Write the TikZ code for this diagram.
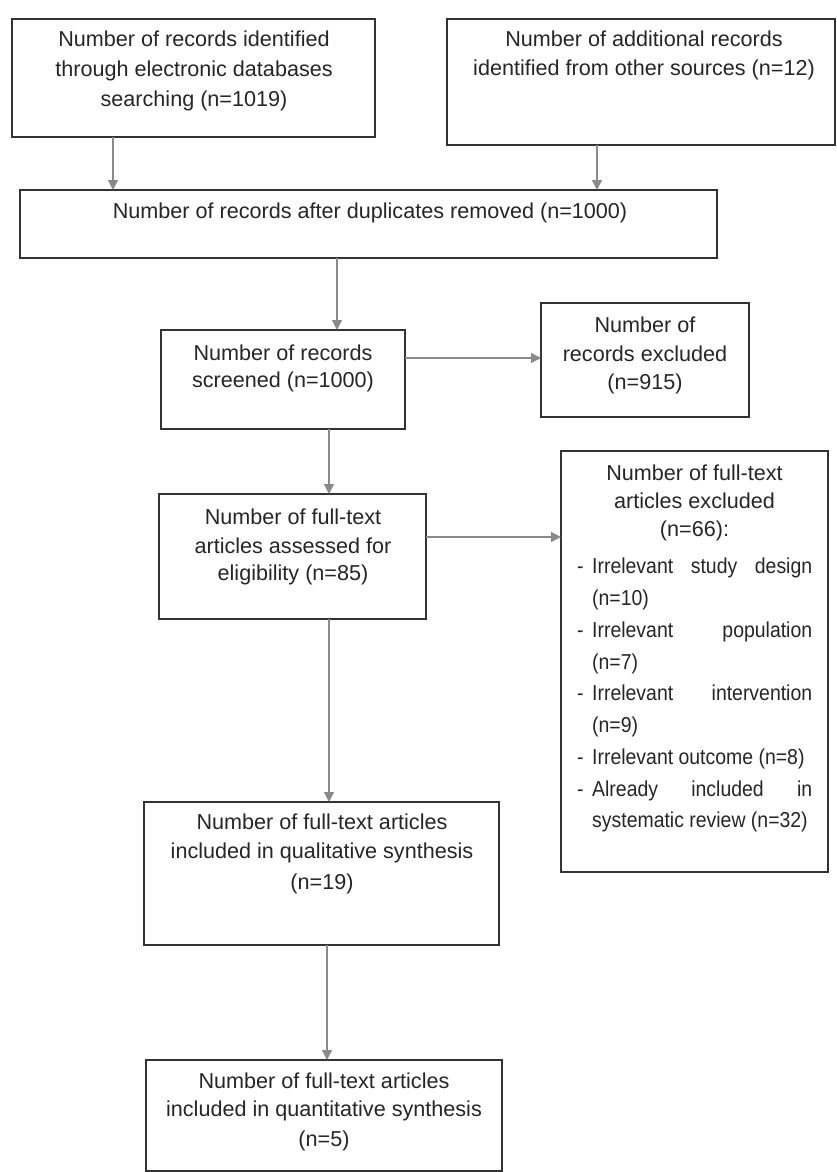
\documentclass[tikz,border=0pt]{standalone}
\usepackage{fontspec}
\setmainfont{Liberation Sans}
\newfontfamily\condfont[FakeStretch=0.9]{Liberation Sans}
\usetikzlibrary{arrows.meta}
\definecolor{boxc}{HTML}{333333}
\definecolor{arrc}{HTML}{8A8A8A}
\definecolor{txtc}{HTML}{262626}
\newcommand{\mfont}{\fontsize{21.6}{26}\selectfont}
\newcommand{\cfont}{\condfont\fontsize{21.6}{26}\selectfont}
\tikzset{
  box/.style={draw=boxc, line width=1.5pt, inner sep=0pt, outer sep=0pt},
  arr/.style={draw=arrc, line width=1.3pt, -{Triangle[length=10pt,width=10pt]}},
  txt/.style={inner sep=0pt, anchor=base, text=txtc, font=\mfont},
  txtw/.style={inner sep=0pt, anchor=base west, text=txtc, font=\cfont},
}
\begin{document}
\begin{tikzpicture}[x=1pt, y=-1pt]
\useasboundingbox[fill=white] (0,0) rectangle (837,1172);
% boxes
\node[box, minimum width=363pt, minimum height=118pt] (b1) at (193.5,78) {};
\node[box, minimum width=388pt, minimum height=126pt] (b2) at (641,82) {};
\node[box, minimum width=697pt, minimum height=68pt] (b3) at (368.5,224) {};
\node[box, minimum width=244pt, minimum height=99pt] (b4) at (283,379.5) {};
\node[box, minimum width=208pt, minimum height=114pt] (b5) at (645,360) {};
\node[box, minimum width=267pt, minimum height=125pt] (b6) at (292.5,556.5) {};
\node[box, minimum width=267pt, minimum height=421pt] (b7) at (694.5,661.5) {};
\node[box, minimum width=355pt, minimum height=143pt] (b8) at (321.5,873.5) {};
\node[box, minimum width=356pt, minimum height=111pt] (b9) at (324,1115.5) {};
% texts
\node[txt] (t1a) at (194,47) {Number of records identified};
\node[txt] (t1b) at (194,76) {through electronic databases};
\node[txt] (t1c) at (194,106) {searching (n=1019)};
\node[txt] (t2a) at (644,47) {Number of additional records};
\node[txt] (t2b) at (644,75) {identified from other sources (n=12)};
\node[txt] (t3a) at (370,218) {Number of records after duplicates removed (n=1000)};
\node[txt] (t4a) at (283,360) {Number of records};
\node[txt] (t4b) at (283,387) {screened (n=1000)};
\node[txt] (t5a) at (645,332) {Number of};
\node[txt] (t5b) at (645,361) {records excluded};
\node[txt] (t5c) at (645,389) {(n=915)};
\node[txt] (t6a) at (293,524) {Number of full-text};
\node[txt] (t6b) at (293,553) {articles assessed for};
\node[txt] (t6c) at (293,580) {eligibility (n=85)};
\node[txt] (t7a) at (694.5,480) {Number of full-text};
\node[txt] (t7b) at (694.5,508) {articles excluded};
\node[txt] (t7c) at (694.5,536) {(n=66):};
% list in b7
\node[txtw] (d1) at (577,573) {-};
\node[txtw] (l1) at (592,573) {\makebox[220pt][s]{Irrelevant study design}};
\node[txtw] (l1b) at (592,605) {(n=10)};
\node[txtw] (d2) at (577,637) {-};
\node[txtw] (l2) at (592,637) {\makebox[220pt][s]{Irrelevant population}};
\node[txtw] (l2b) at (592,669) {(n=7)};
\node[txtw] (d3) at (577,700) {-};
\node[txtw] (l3) at (592,700) {\makebox[220pt][s]{Irrelevant intervention}};
\node[txtw] (l3b) at (592,732) {(n=9)};
\node[txtw] (d4) at (577,764) {-};
\node[txtw] (l4) at (592,764) {Irrelevant outcome (n=8)};
\node[txtw] (d5) at (577,796) {-};
\node[txtw] (l5) at (592,796) {\makebox[220pt][s]{Already included in}};
\node[txtw] (l5b) at (592,827) {systematic review (n=32)};
\node[txt] (t8a) at (322,829) {Number of full-text articles};
\node[txt] (t8b) at (322,858) {included in qualitative synthesis};
\node[txt] (t8c) at (322,889) {(n=19)};
\node[txt] (t9a) at (324,1088) {Number of full-text articles};
\node[txt] (t9b) at (324,1116) {included in quantitative synthesis};
\node[txt] (t9c) at (324,1146) {(n=5)};
% guide coordinates
\coordinate (xa) at (113,0);
\coordinate (xb) at (597,0);
\coordinate (xc) at (337,0);
\coordinate (xd) at (329,0);
\coordinate (xe) at (327,0);
\coordinate (ya) at (0,358);
\coordinate (yb) at (0,537);
% arrows
\draw[arr] (b1.south -| xa) -- (b3.north -| xa);
\draw[arr] (b2.south -| xb) -- (b3.north -| xb);
\draw[arr] (b3.south -| xc) -- (b4.north -| xc);
\draw[arr] (b4.east |- ya) -- (b5.west |- ya);
\draw[arr] (b4.south -| xd) -- (b6.north -| xd);
\draw[arr] (b6.east |- yb) -- (b7.west |- yb);
\draw[arr] (b6.south -| xd) -- (b8.north -| xd);
\draw[arr] (b8.south -| xe) -- (b9.north -| xe);
\end{tikzpicture}
\end{document}
